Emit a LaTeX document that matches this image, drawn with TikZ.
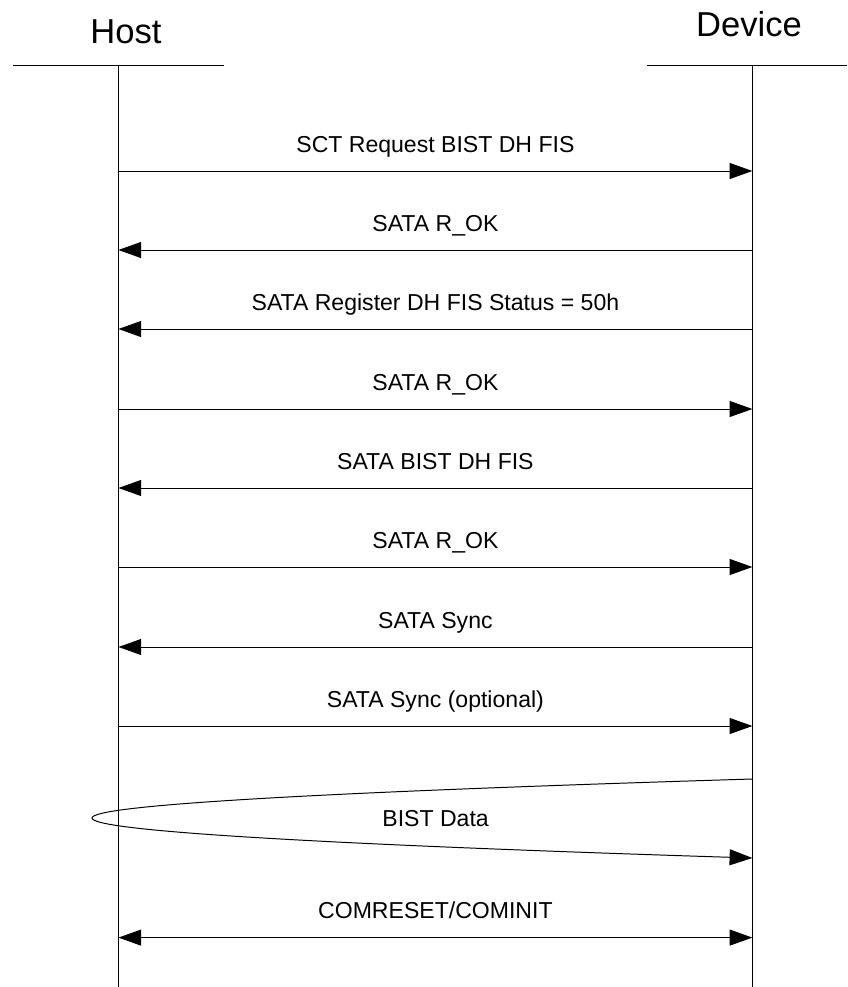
\documentclass[tikz,border=0pt]{standalone}
\usepackage{fontspec}
\setmainfont{Liberation Sans}
\usetikzlibrary{arrows.meta}

\tikzset{
  msg/.style={line width=0.7pt, -{Triangle[length=5.7mm,width=4mm]}},
  both/.style={line width=0.7pt, {Triangle[length=5.7mm,width=4mm]}-{Triangle[length=5.7mm,width=4mm]}},
  lbl/.style={anchor=base, yshift=0.47cm, font=\fontsize{16.4}{19}\selectfont},
  head/.style={anchor=base, font=\fontsize{24.6}{28}\selectfont},
}

\begin{document}
\begin{tikzpicture}
\useasboundingbox (0,0) rectangle (21.175,-24.675);

% actors
\node[head] (host) at (3.15,-1.075) {Host};
\node[head] (dev) at (18.725,-0.9) {Device};

\draw [line width=0.7pt] (0.325,-1.625) -- (5.6,-1.625);
\draw [line width=0.7pt] (16.175,-1.625) -- (21.175,-1.625);

% lifelines
\coordinate (Htop) at (2.96,-1.625);
\coordinate (Hbot) at (2.96,-24.675);
\coordinate (Dtop) at (18.81,-1.625);
\coordinate (Dbot) at (18.81,-24.675);
\draw [line width=0.7pt] (Htop) -- (Hbot);
\draw [line width=0.7pt] (Dtop) -- (Dbot);

\coordinate (H1) at (2.96,-4.275);   \coordinate (D1) at (18.81,-4.275);
\coordinate (H2) at (2.96,-6.25);    \coordinate (D2) at (18.81,-6.25);
\coordinate (H3) at (2.96,-8.225);   \coordinate (D3) at (18.81,-8.225);
\coordinate (H4) at (2.96,-10.225);  \coordinate (D4) at (18.81,-10.225);
\coordinate (H5) at (2.96,-12.2);    \coordinate (D5) at (18.81,-12.2);
\coordinate (H6) at (2.96,-14.175);  \coordinate (D6) at (18.81,-14.175);
\coordinate (H7) at (2.96,-16.175);  \coordinate (D7) at (18.81,-16.175);
\coordinate (H8) at (2.96,-18.15);   \coordinate (D8) at (18.81,-18.15);
\coordinate (D9) at (18.81,-19.475);
\coordinate (loop) at (2.3,-20.45);
\coordinate (D10) at (18.81,-21.45);
\coordinate (H11) at (2.96,-23.44);  \coordinate (D11) at (18.81,-23.44);

% messages
\draw [msg] (H1) -- node[lbl] {SCT Request BIST DH FIS} (D1);
\draw [msg] (D2) -- node[lbl] {SATA R\_OK} (H2);
\draw [msg] (D3) -- node[lbl] {SATA Register DH FIS Status = 50h} (H3);
\draw [msg] (H4) -- node[lbl] {SATA R\_OK} (D4);
\draw [msg] (D5) -- node[lbl] {SATA BIST DH FIS} (H5);
\draw [msg] (H6) -- node[lbl] {SATA R\_OK} (D6);
\draw [msg] (D7) -- node[lbl] {SATA Sync} (H7);
\draw [msg] (H8) -- node[lbl] {SATA Sync (optional)} (D8);

\draw [msg] (D9) .. controls (7.81,-19.81) and (2.3,-20.13) .. (loop)
  .. controls (2.3,-20.77) and (7.81,-21.1) .. (D10);
\node[lbl] (bist) at (10.89,-21.12) {BIST Data};

\draw [both] (H11) -- node[lbl] {COMRESET/COMINIT} (D11);

\end{tikzpicture}
\end{document}
